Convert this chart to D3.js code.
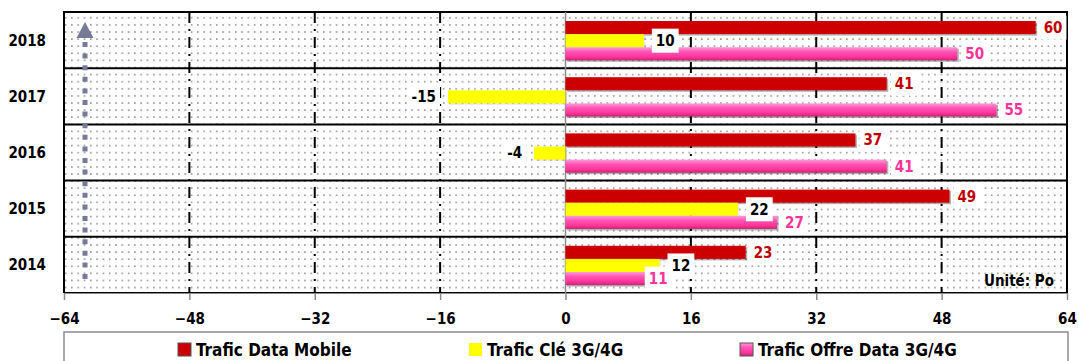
<!DOCTYPE html>
<html>
<head>
<meta charset="utf-8">
<script src="https://cdn.jsdelivr.net/npm/d3@7"></script>
<style>
  body { margin: 0; background: #fff; }
  text { font-family: "DejaVu Sans Condensed", "DejaVu Sans", sans-serif; font-stretch: condensed; font-weight: bold; }
</style>
</head>
<body>
<div id="chart"></div>
<script>
var years = ["2018", "2017", "2016", "2015", "2014"];
var seriesNames = ["Trafic Data Mobile", "Trafic Clé 3G/4G", "Trafic Offre Data 3G/4G"];
var dataMobile = [60, 41, 37, 49, 23];
var cle3g4g = [10, -15, -4, 22, 12];
var offreData = [50, 55, 41, 27, 11];
var xTicks = [-64, -48, -32, -16, 0, 16, 32, 48, 64];

var width = 1079, height = 361;
var plotLeft = 64, plotRight = 1067, plotTop = 12, plotBottom = 293;

var svg = d3.select("#chart").append("svg").attr("width", width).attr("height", height);
var defs = svg.append("defs");

// dotted background
var pat = defs.append("pattern").attr("id", "dots").attr("patternUnits", "userSpaceOnUse")
    .attr("width", 6.3).attr("height", 7.1);
pat.append("rect").attr("width", 6.3).attr("height", 7.1).attr("fill", "#fff");
pat.append("rect").attr("x", 2).attr("y", 3).attr("width", 1.2).attr("height", 1.2).attr("fill", "#444");

// pink gradient
var grad = defs.append("linearGradient").attr("id", "pinkGrad").attr("x1", 0).attr("y1", 0).attr("x2", 0).attr("y2", 1);
grad.append("stop").attr("offset", "0%").attr("stop-color", "#ff9ad6");
grad.append("stop").attr("offset", "35%").attr("stop-color", "#ff55b4");
grad.append("stop").attr("offset", "75%").attr("stop-color", "#ff3399");
grad.append("stop").attr("offset", "100%").attr("stop-color", "#c2266f");

var x = d3.scaleLinear().domain([-64, 64]).range([plotLeft, plotRight]);
var y = d3.scaleBand().domain(years).range([plotTop, plotBottom]);
var yInner = d3.scaleBand().domain(seriesNames)
    .range([y.bandwidth() * 0.16, y.bandwidth() * 0.86]);

var fills = ["#cc0000", "#ffff00", "url(#pinkGrad)"];
var labelColors = ["#c00000", "#000000", "#ff3399"];
var labelGap = [8, 12, 8];
var values = [dataMobile, cle3g4g, offreData];

var rows = [];
seriesNames.forEach(function(s, i){
    years.forEach(function(yr, j){
        rows.push({series: s, si: i, year: yr, value: values[i][j]});
    });
});

// background
svg.append("rect").attr("x", plotLeft).attr("y", plotTop)
    .attr("width", plotRight - plotLeft).attr("height", plotBottom - plotTop)
    .attr("fill", "url(#dots)");

// vertical grid lines
svg.append("g").selectAll("line").data(xTicks.filter(function(t){ return t != 0 && Math.abs(t) != 64; }))
    .enter().append("line")
    .attr("x1", function(d){ return x(d); }).attr("x2", function(d){ return x(d); })
    .attr("y1", plotTop).attr("y2", plotBottom)
    .attr("stroke", "#000").attr("stroke-width", 2).attr("stroke-dasharray", "11,6,2,6");

// row separators
var bounds = years.map(function(d){ return y(d); }).concat([plotBottom]);
svg.append("g").selectAll("line").data(bounds).enter().append("line")
    .attr("x1", plotLeft).attr("x2", plotRight)
    .attr("y1", function(d){ return d; }).attr("y2", function(d){ return d; })
    .attr("stroke", "#000").attr("stroke-width", 2);

// left/right borders
svg.append("line").attr("x1", plotLeft).attr("x2", plotLeft).attr("y1", plotTop - 1).attr("y2", plotBottom)
    .attr("stroke", "#000").attr("stroke-width", 2);
svg.append("line").attr("x1", plotRight).attr("x2", plotRight).attr("y1", plotTop - 1).attr("y2", plotBottom)
    .attr("stroke", "#000").attr("stroke-width", 2);

// zero line
svg.append("line").attr("x1", x(0)).attr("x2", x(0)).attr("y1", plotTop).attr("y2", plotBottom)
    .attr("stroke", "#8c8c8c").attr("stroke-width", 1.5);

// bar shadows
svg.append("g").selectAll("rect").data(rows).enter().append("rect")
    .attr("x", function(d){ return Math.min(x(0), x(d.value)) + 1.5; })
    .attr("y", function(d){ return y(d.year) + yInner(d.series) + 1.5; })
    .attr("width", function(d){ return Math.abs(x(d.value) - x(0)); })
    .attr("height", yInner.bandwidth())
    .attr("fill", "#000").attr("opacity", function(d){ return d.si == 1 ? 0.08 : 0.3; });

// bars
svg.append("g").selectAll("rect").data(rows).enter().append("rect")
    .attr("x", function(d){ return Math.min(x(0), x(d.value)); })
    .attr("y", function(d){ return y(d.year) + yInner(d.series); })
    .attr("width", function(d){ return Math.abs(x(d.value) - x(0)); })
    .attr("height", yInner.bandwidth())
    .attr("fill", function(d){ return fills[d.si]; });

// data labels with white boxes
var placed = {};
var labels = svg.append("g").selectAll("g").data(rows).enter().append("g");
labels.each(function(d){
    var g = d3.select(this);
    var px = d.value >= 0 ? x(d.value) + labelGap[d.si] : x(d.value) - labelGap[d.si];
    var py = y(d.year) + yInner(d.series) + yInner.bandwidth() / 2;
    var t = g.append("text").attr("dy", "0.36em").attr("font-size", 15)
        .attr("text-anchor", d.value >= 0 ? "start" : "end")
        .attr("fill", labelColors[d.si]).text(d.value);
    var bb = t.node().getBBox();
    // keep the pink label clear of the yellow one just above it
    var prev = placed[d.year];
    if (d.si == 2 && prev && px < prev.x2 && px + bb.width > prev.x1) {
        px = prev.x1 - bb.width - 4;
    }
    g.attr("transform", "translate(" + px + "," + py + ")");
    g.insert("rect", "text").attr("x", bb.x - 4).attr("y", -12)
        .attr("width", bb.width + 8).attr("height", 24).attr("fill", "#fff");
    if (d.si == 1) placed[d.year] = {x1: px + bb.x, x2: px + bb.x + bb.width};
});

// arrow
svg.append("line").attr("x1", 85).attr("x2", 85).attr("y1", 279).attr("y2", 38)
    .attr("stroke", "#777a96").attr("stroke-width", 5).attr("stroke-dasharray", "5,6.6");
svg.append("path").attr("d", "M85,22 L93.5,38 L76.5,38 Z").attr("fill", "#777a96");

// year labels
svg.append("g").selectAll("text").data(years).enter().append("text")
    .attr("x", 46).attr("y", function(d){ return y(d) + y.bandwidth() / 2; })
    .attr("dy", "0.36em").attr("text-anchor", "end").attr("font-size", 15)
    .attr("fill", "#000").text(function(d){ return d; });

// x axis
var axis = svg.append("g").attr("transform", "translate(0," + plotBottom + ")")
    .call(d3.axisBottom(x).tickValues(xTicks).tickSize(7).tickPadding(13).tickSizeOuter(0));
axis.select(".domain").attr("stroke", "#8c8c8c");
axis.selectAll(".tick line").attr("stroke", "#8c8c8c").attr("stroke-width", 1.5);
axis.selectAll(".tick text").attr("font-size", 15).attr("fill", "#000")
    .style("font-family", "'DejaVu Sans Condensed', 'DejaVu Sans', sans-serif").style("font-weight", "bold");

// unit
svg.append("text").attr("x", 1054).attr("y", 286).attr("text-anchor", "end")
    .attr("font-size", 15).attr("fill", "#000").text("Unité: Po");

// legend
svg.append("rect").attr("x", plotLeft).attr("y", 332).attr("width", plotRight - plotLeft + 1).attr("height", 40)
    .attr("fill", "#fff").attr("stroke", "#8c8c8c").attr("stroke-width", 1.5);
var legendX = [178, 469, 740];
var leg = svg.append("g").selectAll("g").data(seriesNames).enter().append("g")
    .attr("transform", function(d, i){ return "translate(" + legendX[i] + ",343)"; });
leg.append("rect").attr("width", 13).attr("height", 13)
    .attr("fill", function(d, i){ return fills[i]; })
    .attr("stroke", function(d, i){ return i == 1 ? "none" : "#555"; }).attr("stroke-width", 1);
leg.append("text").attr("x", 18).attr("y", 13).attr("font-size", 17).attr("fill", "#000")
    .text(function(d){ return d; });
</script>
</body>
</html>
